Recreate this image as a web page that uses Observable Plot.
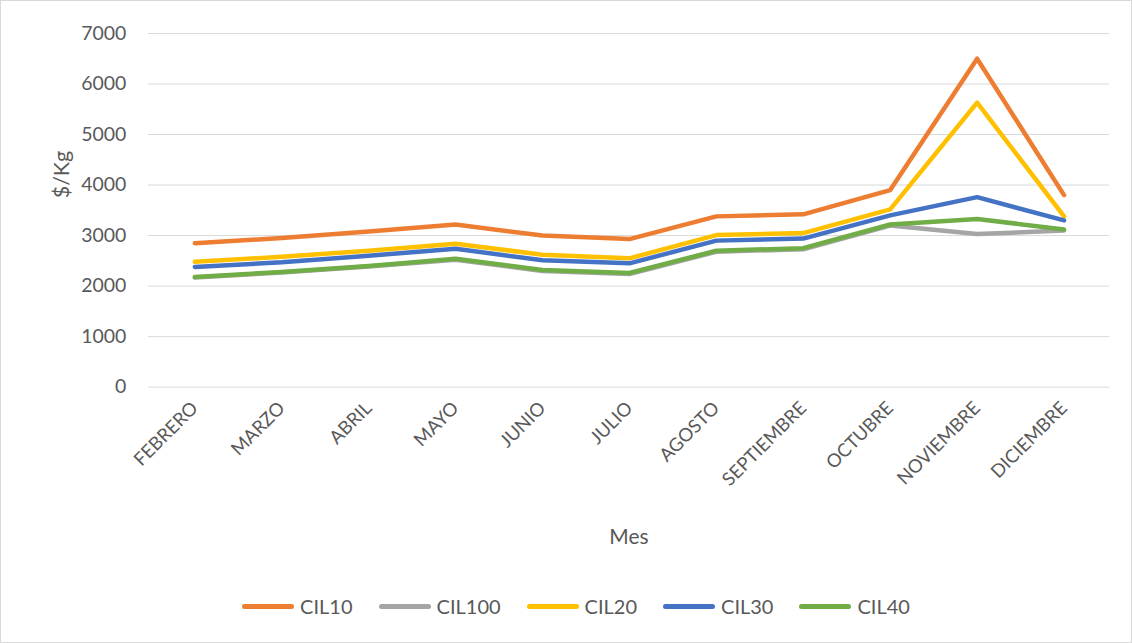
<!DOCTYPE html>
<html>
<head>
<meta charset="utf-8">
<script src="https://cdn.jsdelivr.net/npm/d3@7"></script>
<script src="https://cdn.jsdelivr.net/npm/@observablehq/plot@0.6"></script>
<style>
  html, body { margin: 0; padding: 0; background: #fff; }
  #frame { position: relative; width: 1130px; height: 641px; border: 1px solid #d9d9d9; overflow: hidden; font-family: Lato, "Open Sans", sans-serif; }
  #chart { position: absolute; left: -1px; top: -1px; }
  #legend { position: absolute; left: 0; top: 593px; width: 1150px; display: flex; justify-content: center; align-items: center; color: #595959; font-size: 20px; }
  .item { display: flex; align-items: center; margin: 0 13px; }
  .sw { width: 52px; height: 5px; border-radius: 3px; margin-right: 6px; }
</style>
</head>
<body>
<div id="frame">
  <div id="chart"></div>
  <div id="legend"></div>
</div>
<script>
const months = ["FEBRERO","MARZO","ABRIL","MAYO","JUNIO","JULIO","AGOSTO","SEPTIEMBRE","OCTUBRE","NOVIEMBRE","DICIEMBRE"];
const seriesNames = ["CIL10","CIL100","CIL20","CIL30","CIL40"];
const seriesColors = ["#ED7D31","#A5A5A5","#FFC000","#4472C4","#70AD47"];
const cil10  = [2850, 2950, 3080, 3220, 3000, 2930, 3380, 3420, 3900, 6500, 3800];
const cil100 = [2170, 2270, 2390, 2520, 2300, 2240, 2680, 2730, 3200, 3030, 3100];
const cil20  = [2480, 2580, 2700, 2840, 2620, 2550, 3010, 3050, 3520, 5630, 3380];
const cil30  = [2380, 2470, 2600, 2740, 2510, 2450, 2900, 2940, 3400, 3760, 3300];
const cil40  = [2180, 2280, 2400, 2540, 2320, 2260, 2700, 2750, 3220, 3330, 3120];
const yTicks = [0, 1000, 2000, 3000, 4000, 5000, 6000, 7000];

const seriesValues = [cil10, cil100, cil20, cil30, cil40];
const data = [];
seriesNames.forEach((s, i) => months.forEach((m, j) => data.push({serie: s, mes: m, valor: seriesValues[i][j]})));

const chart = Plot.plot({
  width: 1132,
  height: 575,
  marginLeft: 148,
  marginRight: 22,
  marginTop: 33,
  marginBottom: 188,
  style: {fontFamily: "Lato, 'Open Sans', sans-serif", color: "#595959", background: "transparent"},
  x: {type: "band", domain: months, padding: 0},
  y: {domain: [0, 7000]},
  color: {domain: seriesNames, range: seriesColors},
  marks: [
    Plot.gridY(yTicks, {stroke: "#d9d9d9", strokeOpacity: 1, strokeWidth: 1}),
    Plot.axisY(yTicks, {tickSize: 0, tickPadding: 22, fontSize: 19.5, label: null, tickFormat: d => String(d)}),
    Plot.axisX({tickSize: 0, tickPadding: 18, tickRotate: -45, fontSize: 18.5, label: null}),
    Plot.text(["$/Kg"], {frameAnchor: "left", dx: -86, dy: -12, rotate: -90, fontSize: 21.5, fill: "#595959"}),
    Plot.text(["Mes"], {frameAnchor: "bottom", dx: 0, dy: 157, fontSize: 21, fill: "#595959"}),
    Plot.lineY(data, {x: "mes", y: "valor", z: "serie", stroke: "serie", strokeWidth: 4.5, strokeLinecap: "round", strokeLinejoin: "round"})
  ]
});
document.getElementById("chart").appendChild(chart);

const legend = document.getElementById("legend");
seriesNames.forEach((s, i) => {
  const it = document.createElement("div");
  it.className = "item";
  const sw = document.createElement("span");
  sw.className = "sw";
  sw.style.background = seriesColors[i];
  const t = document.createElement("span");
  t.textContent = s;
  it.appendChild(sw); it.appendChild(t);
  legend.appendChild(it);
});
</script>
</body>
</html>
